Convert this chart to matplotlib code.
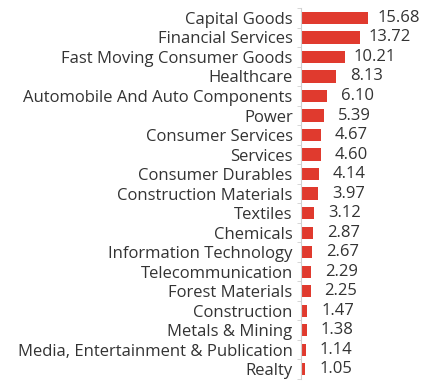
import matplotlib.pyplot as plt
import numpy as np

sectors = ['Capital Goods', 'Financial Services', 'Fast Moving Consumer Goods', 'Healthcare',
           'Automobile And Auto Components', 'Power', 'Consumer Services', 'Services',
           'Consumer Durables', 'Construction Materials', 'Textiles', 'Chemicals',
           'Information Technology', 'Telecommunication', 'Forest Materials', 'Construction',
           'Metals & Mining', 'Media, Entertainment & Publication', 'Realty']
weights = [15.68, 13.72, 10.21, 8.13, 6.10, 5.39, 4.67, 4.60, 4.14, 3.97, 3.12, 2.87,
           2.67, 2.29, 2.25, 1.47, 1.38, 1.14, 1.05]

plt.rcParams['font.family'] = ['Open Sans', 'DejaVu Sans']

fig = plt.figure(figsize=(4.42, 3.91), dpi=100)
ax = fig.add_axes([0.681, 0.031, 0.29, 0.948])

y = np.arange(len(sectors))
ax.barh(y, weights, height=0.62, color='#e03a2e')
for yi, w in zip(y, weights):
    ax.text(w + 7.1, yi, f'{w:.2f}', va='center', ha='center', fontsize=12, color='#333333')

ax.set_yticks(y)
ax.set_yticklabels(sectors, fontsize=12, color='#333333')
ax.set_yticks(np.arange(-0.5, len(sectors), 1), minor=True)
ax.tick_params(axis='y', which='major', length=0, pad=6)
ax.tick_params(axis='y', which='minor', length=3, color='#d0d0d0')
ax.set_ylim(len(sectors) - 0.5, -0.5)
ax.set_xlim(0, 30)
ax.set_xticks([])
for s in ['top', 'right', 'bottom']:
    ax.spines[s].set_visible(False)
ax.spines['left'].set_color('#d0d0d0')

fig.savefig('out.png', dpi=100)
